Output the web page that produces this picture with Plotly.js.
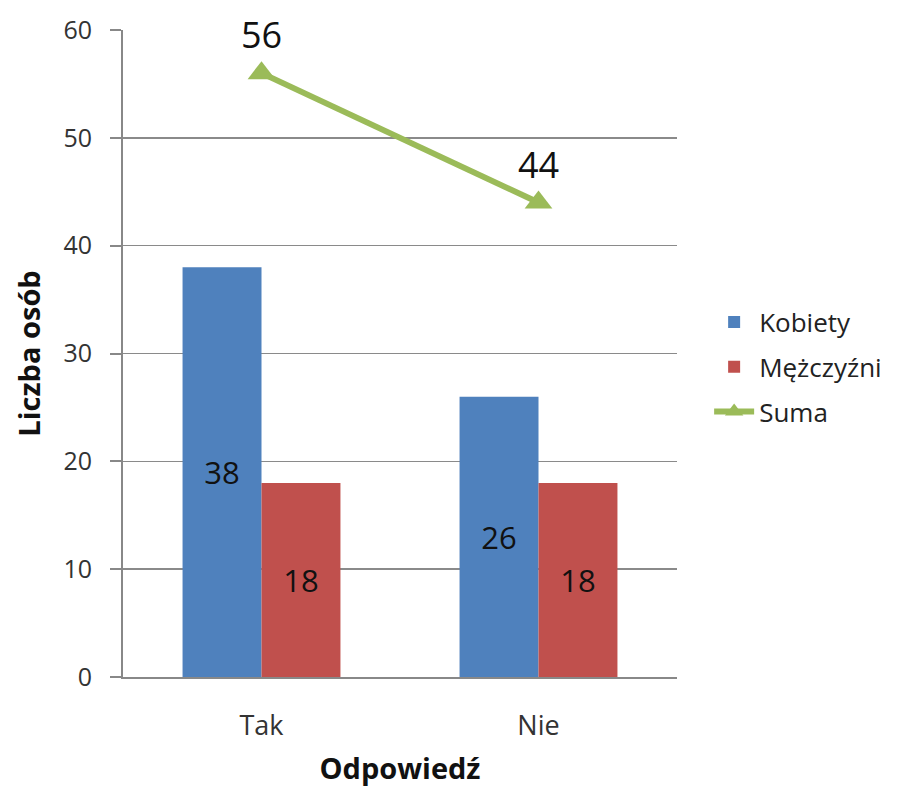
<!DOCTYPE html>
<html>
<head>
<meta charset="utf-8">
<script src="https://cdn.plot.ly/plotly-3.0.1.min.js"></script>
<style>html,body{margin:0;padding:0;background:#fff;}</style>
</head>
<body>
<div id="chart" style="width:904px;height:787px;"></div>
<script>
const categories = ["Tak", "Nie"];
const kobiety = [38, 26];
const mezczyzni = [18, 18];
const suma = [56, 44];
const yTicks = [0, 10, 20, 30, 40, 50, 60];

const FONT = "'Open Sans', Lato, sans-serif";

const traces = [
  {
    type: "bar", name: "Kobiety", x: categories, y: kobiety,
    marker: {color: "#4F81BD"},
    text: kobiety.map(String), textposition: "inside", insidetextanchor: "middle",
    textfont: {size: 31, color: "#111", family: FONT},
    legendgroup: "a", hoverinfo: "none"
  },
  {
    type: "bar", name: "Mężczyźni", x: categories, y: mezczyzni,
    marker: {color: "#C0504D"},
    text: mezczyzni.map(String), textposition: "inside", insidetextanchor: "middle",
    textfont: {size: 31, color: "#111", family: FONT},
    legendgroup: "b", hoverinfo: "none"
  },
  {
    type: "scatter", mode: "lines+markers+text", name: "Suma", x: categories, y: suma,
    line: {color: "#9BBB59", width: 6},
    marker: {symbol: "triangle-up", size: 24, color: "#9BBB59"},
    text: suma.map(String), textposition: "top center",
    textfont: {size: 36, color: "#111", family: FONT},
    cliponaxis: false, legendgroup: "c", hoverinfo: "none"
  }
];

const layout = {
  width: 904, height: 787,
  margin: {l: 123, r: 227, t: 30, b: 110},
  paper_bgcolor: "#fff", plot_bgcolor: "#fff",
  font: {family: FONT, color: "#222", size: 20},
  barmode: "group", bargap: 0.43, bargroupgap: 0,
  showlegend: true,
  legend: {
    x: 1.058, xanchor: "left", y: 0.479, yanchor: "middle",
    font: {size: 26, family: FONT, color: "#222"},
    traceorder: "grouped", tracegroupgap: 8, itemwidth: 40
  },
  xaxis: {
    type: "category", showline: true, linecolor: "#888", linewidth: 2,
    ticks: "", tickfont: {size: 27, family: FONT, color: "#333"},
    ticklabelstandoff: 24,
    title: {text: "<b>Odpowiedź</b>", font: {size: 29, family: FONT, color: "#111"}, standoff: 16},
    fixedrange: true
  },
  yaxis: {
    range: [0, 60], tickvals: yTicks, ticktext: yTicks.map(String),
    showgrid: true, gridcolor: "#8a8a8a", gridwidth: 1.5,
    showline: true, linecolor: "#888", linewidth: 2,
    ticks: "outside", ticklen: 11, tickcolor: "#888", tickwidth: 2,
    tickfont: {size: 25, family: FONT, color: "#333"},
    ticklabelstandoff: 13,
    zeroline: false,
    title: {text: "<b>Liczba osób</b>", font: {size: 29, family: FONT, color: "#111"}, standoff: 14},
    fixedrange: true
  }
};

Plotly.newPlot("chart", traces, layout, {displayModeBar: false, staticPlot: true});
</script>
</body>
</html>
